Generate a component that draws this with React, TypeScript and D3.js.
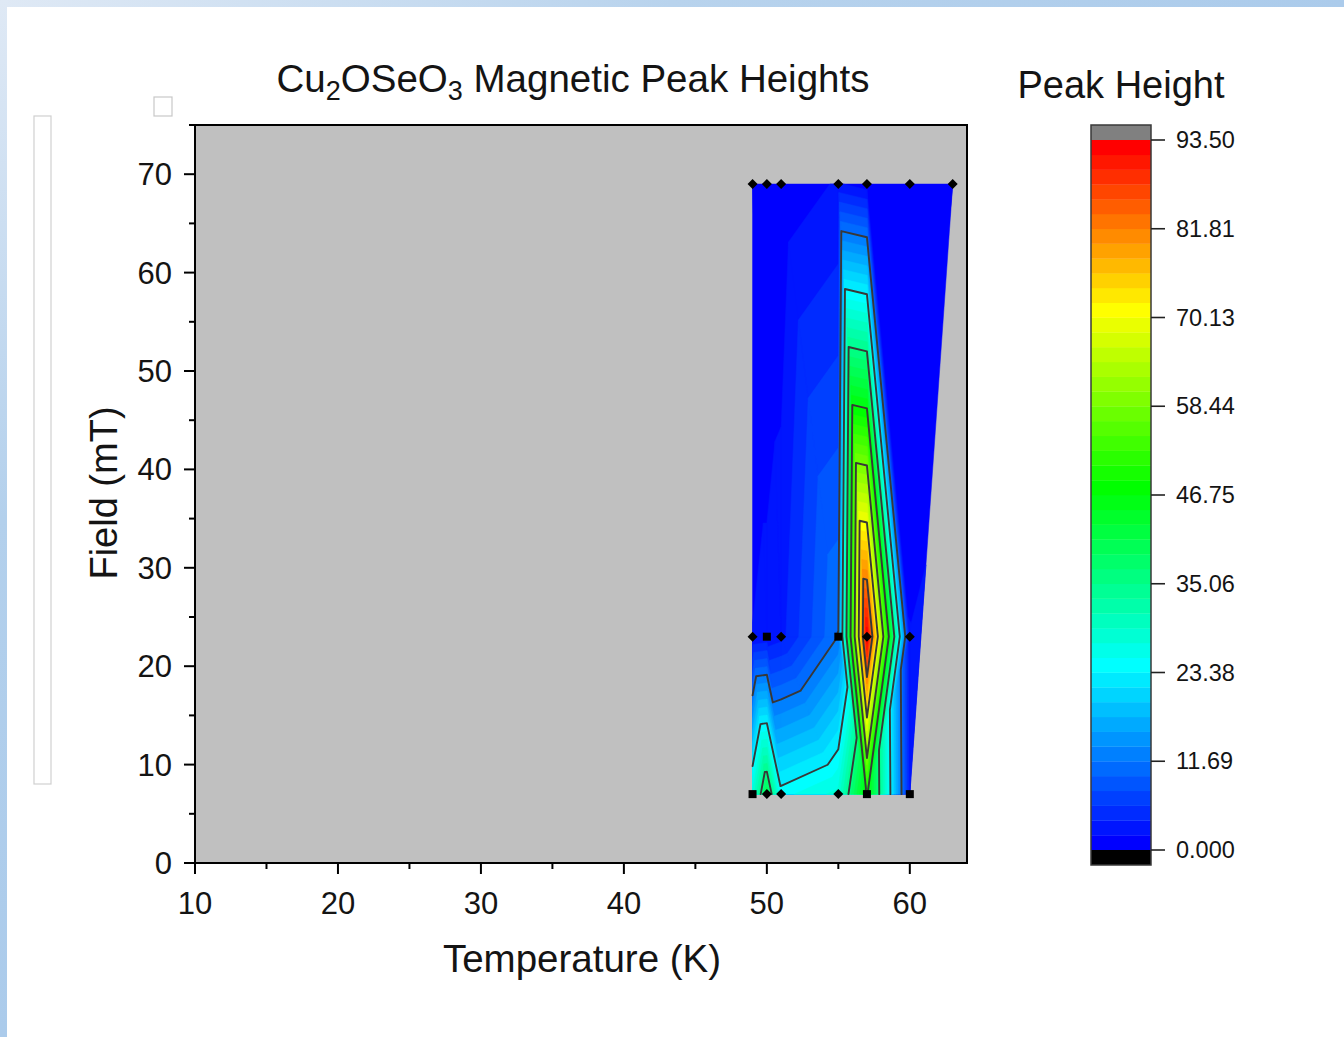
import React from 'react';
import * as d3 from 'd3';

// ---------------- data ----------------
const fieldsMT = [69, 23, 7];
const temps69 = [49, 50, 51, 55, 57, 60, 63];
const heights69 = [0.3, 0.3, 0.5, 2.2, 0.8, 0.5, 0.2];
const temps23 = [49, 50, 51, 55, 57, 60];
const heights23 = [2.0, 2.5, 3.2, 11.8, 93.5, 2.0];
const temps7 = [49, 50, 51, 55, 57, 60];
const heights7 = [28, 40.5, 24.5, 28, 48, 3];

const markers69 = ['d', 'd', 'd', 'd', 'd', 'd', 'd'];
const markers23 = ['d', 's', 'd', 's', 'd', 'd'];
const markers7 = ['s', 'd', 'd', 'd', 's', 's'];

const xTicks = [10, 20, 30, 40, 50, 60];
const xMinor = [15, 25, 35, 45, 55];
const yTicks = [0, 10, 20, 30, 40, 50, 60, 70];
const yMinor = [5, 15, 25, 35, 45, 55, 65, 75];
const zMin = 0;
const zMax = 93.5;
const nLevels = 48;
const majorEvery = 6;
const colorTickLabels = ['0.000', '11.69', '23.38', '35.06', '46.75', '58.44', '70.13', '81.81', '93.50'];

// ---------------- scales ----------------
const xScale = d3.scaleLinear().domain([10, 64]).range([195, 967]);
const yScale = d3.scaleLinear().domain([0, 75]).range([863, 125]);
const cbScale = d3.scaleLinear().domain([zMin, zMax]).range([850, 140]);
const rainbow = d3
  .scaleLinear<string>()
  .domain([0, 0.25, 0.5, 0.75, 1])
  .range(['#0000ff', '#00ffff', '#00ff00', '#ffff00', '#ff0000'])
  .interpolate(d3.interpolateRgb);
const step = (zMax - zMin) / nLevels;
const bandColor = (k: number) => rainbow(k <= 36 ? k / 48 : 0.75 + ((k - 36) / 11) * 0.25);

type P = { x: number; y: number; v: number };
const mk = (temps: number[], vals: number[], f: number): P[] =>
  temps.map((t, i) => ({ x: xScale(t), y: yScale(f), v: vals[i] }));
const top = mk(temps69, heights69, fieldsMT[0]);
const mid = mk(temps23, heights23, fieldsMT[1]);
const bot = mk(temps7, heights7, fieldsMT[2]);

// triangulation (topology only)
const tris: P[][] = [];
for (let i = 0; i < 5; i++) {
  tris.push([top[i], top[i + 1], mid[i + 1]]);
  tris.push([top[i], mid[i], mid[i + 1]]);
}
tris.push([top[5], top[6], mid[5]]);
tris.push([mid[5], top[6], bot[5]]);
for (let i = 0; i < 4; i++) {
  tris.push([mid[i], mid[i + 1], bot[i + 1]]);
  tris.push([mid[i], bot[i], bot[i + 1]]);
}
tris.push([mid[4], mid[5], bot[4]]);
tris.push([mid[5], bot[4], bot[5]]);

function clipAbove(poly: P[], L: number): P[] {
  const out: P[] = [];
  for (let i = 0; i < poly.length; i++) {
    const a = poly[i];
    const b = poly[(i + 1) % poly.length];
    const ain = a.v >= L;
    const bin = b.v >= L;
    if (ain) out.push(a);
    if (ain !== bin) {
      const t = (L - a.v) / (b.v - a.v);
      out.push({ x: a.x + t * (b.x - a.x), y: a.y + t * (b.y - a.y), v: L });
    }
  }
  return out;
}

const polyPath = (poly: P[]) => {
  const p = d3.path();
  poly.forEach((q, i) => (i === 0 ? p.moveTo(q.x, q.y) : p.lineTo(q.x, q.y)));
  p.closePath();
  return p.toString();
};

const bandPaths = d3.range(nLevels).map((k) => {
  const L = zMin + k * step;
  const d = tris
    .map((t) => clipAbove(t, L))
    .filter((p) => p.length >= 3)
    .map(polyPath)
    .join('');
  return { k, d };
});

const lineLevels = d3.range(1, nLevels / majorEvery).map((j) => zMin + j * majorEvery * step);
const linePaths = lineLevels.map((L) => {
  const p = d3.path();
  tris.forEach((t) => {
    const pts: [number, number][] = [];
    for (let i = 0; i < 3; i++) {
      const a = t[i];
      const b = t[(i + 1) % 3];
      if ((a.v - L) * (b.v - L) < 0) {
        const s = (L - a.v) / (b.v - a.v);
        pts.push([a.x + s * (b.x - a.x), a.y + s * (b.y - a.y)]);
      }
    }
    if (pts.length === 2) {
      p.moveTo(pts[0][0], pts[0][1]);
      p.lineTo(pts[1][0], pts[1][1]);
    }
  });
  return p.toString();
});

const allMarkers = [
  ...top.map((p, i) => ({ ...p, m: markers69[i] })),
  ...mid.map((p, i) => ({ ...p, m: markers23[i] })),
  ...bot.map((p, i) => ({ ...p, m: markers7[i] })),
];

const FONT = "'Liberation Sans', Arial, sans-serif";
const TXT = '#141414';

export default function App() {
  const cbTicks = d3.range(0, 9).map((j) => (zMax / 8) * j);
  return (
    <svg
      width={1344}
      height={1037}
      style={{ position: 'absolute', left: 0, top: 0, background: '#ffffff' }}
      fontFamily={FONT}
    >
      <defs>
        <linearGradient id="edgeL" x1="0" y1="0" x2="0" y2="1">
          <stop offset="0" stopColor="#dfe9f5" />
          <stop offset="0.5" stopColor="#b3d0ec" />
          <stop offset="1" stopColor="#abcbeb" />
        </linearGradient>
        <linearGradient id="edgeT" x1="0" y1="0" x2="1" y2="0">
          <stop offset="0" stopColor="#dfe9f5" />
          <stop offset="0.5" stopColor="#b8d3ed" />
          <stop offset="1" stopColor="#abcbeb" />
        </linearGradient>
      </defs>
      <rect x={0} y={0} width={1344} height={1037} fill="#ffffff" />
      <rect x={0} y={0} width={1344} height={7} fill="url(#edgeT)" />
      <rect x={0} y={0} width={7} height={1037} fill="url(#edgeL)" />

      {/* layer handles */}
      <rect x={154} y={97} width={18} height={19} fill="#fff" stroke="#c8c8c8" strokeWidth={1.2} />
      <rect x={34} y={116} width={17} height={668} fill="#fff" stroke="#d0d0d0" strokeWidth={1.2} />

      {/* plot background */}
      <rect x={195} y={125} width={772} height={738} fill="#c0c0c0" />

      {/* filled contour bands */}
      {bandPaths.map(({ k, d }) => (
        <path key={k} d={d} fill={bandColor(k)} stroke={bandColor(k)} strokeWidth={0.5} />
      ))}
      {/* contour lines */}
      {linePaths.map((d, i) => (
        <path key={i} d={d} fill="none" stroke="#383838" strokeWidth={1.9} strokeLinecap="round" />
      ))}
      {/* data markers */}
      {allMarkers.map((p, i) =>
        p.m === 's' ? (
          <rect key={i} x={p.x - 4} y={p.y - 4} width={8} height={8} fill="#000" />
        ) : (
          <path
            key={i}
            d={`M${p.x},${p.y - 5}L${p.x + 5},${p.y}L${p.x},${p.y + 5}L${p.x - 5},${p.y}Z`}
            fill="#000"
          />
        )
      )}

      {/* frame */}
      <rect x={195} y={125} width={772} height={738} fill="none" stroke="#000" strokeWidth={2} />

      {/* y axis ticks */}
      {yTicks.map((t) => (
        <g key={'y' + t}>
          <line x1={184} x2={195} y1={yScale(t)} y2={yScale(t)} stroke="#000" strokeWidth={2} />
          <text x={172} y={yScale(t) + 11} textAnchor="end" fontSize={31} fill={TXT}>
            {t}
          </text>
        </g>
      ))}
      {yMinor.map((t) => (
        <line key={'ym' + t} x1={189} x2={195} y1={yScale(t)} y2={yScale(t)} stroke="#000" strokeWidth={2} />
      ))}
      {/* x axis ticks */}
      {xTicks.map((t) => (
        <g key={'x' + t}>
          <line x1={xScale(t)} x2={xScale(t)} y1={863} y2={874} stroke="#000" strokeWidth={2} />
          <text x={xScale(t)} y={914} textAnchor="middle" fontSize={31} fill={TXT}>
            {t}
          </text>
        </g>
      ))}
      {xMinor.map((t) => (
        <line key={'xm' + t} x1={xScale(t)} x2={xScale(t)} y1={863} y2={869} stroke="#000" strokeWidth={2} />
      ))}

      {/* axis titles */}
      <text x={582} y={972} textAnchor="middle" fontSize={38.5} fill={TXT}>
        Temperature (K)
      </text>
      <text transform="translate(117,493) rotate(-90)" textAnchor="middle" fontSize={38} fill={TXT}>
        Field (mT)
      </text>

      {/* title */}
      <text x={573} y={92} textAnchor="middle" fontSize={38.5} fill={TXT}>
        Cu
        <tspan fontSize={27} dy={8}>
          2
        </tspan>
        <tspan dy={-8}>OSeO</tspan>
        <tspan fontSize={27} dy={8}>
          3
        </tspan>
        <tspan dy={-8}> Magnetic Peak Heights</tspan>
      </text>

      {/* color bar */}
      <text x={1121} y={98} textAnchor="middle" fontSize={38} fill={TXT}>
        Peak Height
      </text>
      <rect x={1091} y={125} width={60} height={15} fill="#808080" />
      {d3.range(nLevels).map((k) => (
        <rect
          key={'cb' + k}
          x={1091}
          y={cbScale(zMin + (k + 1) * step)}
          width={60}
          height={cbScale(zMin + k * step) - cbScale(zMin + (k + 1) * step) + 0.3}
          fill={bandColor(k)}
        />
      ))}
      <rect x={1091} y={850} width={60} height={15} fill="#000" />
      <rect x={1091} y={125} width={60} height={740} fill="none" stroke="#3a3a3a" strokeWidth={1.5} />
      {cbTicks.map((v, i) => (
        <g key={'ct' + i}>
          <line x1={1151} x2={1165} y1={cbScale(v)} y2={cbScale(v)} stroke="#222" strokeWidth={1.6} />
          <text x={1176} y={cbScale(v) + 8} fontSize={23.5} fill={TXT}>
            {colorTickLabels[i]}
          </text>
        </g>
      ))}
    </svg>
  );
}
